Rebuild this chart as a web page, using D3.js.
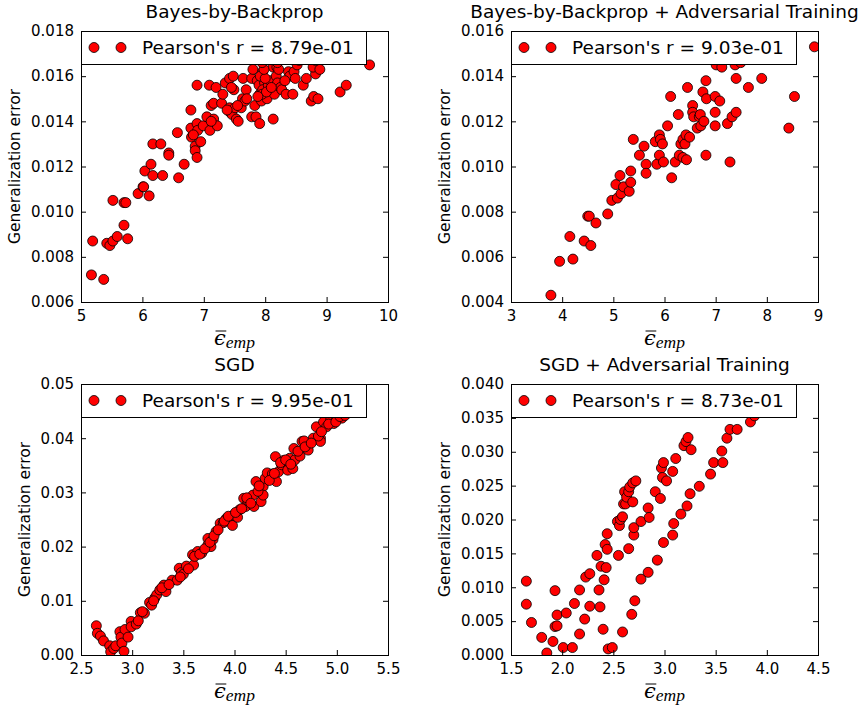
<!DOCTYPE html>
<html>
<head>
<meta charset="utf-8">
<script src="https://cdn.jsdelivr.net/npm/d3@7"></script>
<style>
body { margin: 0; background: #fff; }
text { font-family: "DejaVu Sans", sans-serif; fill: #000; }
</style>
</head>
<body>
<svg id="chart" width="867" height="709"></svg>
<script>
// panel titles and legend text
var titles = ["Bayes-by-Backprop", "Bayes-by-Backprop + Adversarial Training", "SGD", "SGD + Adversarial Training"];
var pearson = ["8.79e-01", "9.03e-01", "9.95e-01", "8.73e-01"];
var yLabel = "Generalization error";

// Bayes-by-Backprop
var bbbX = [5.17,5.37,5.19,5.42,5.47,5.52,5.59,5.76,5.70,5.52,5.70,5.73,5.93,6.01,6.02,6.11,6.04,6.14,6.17,6.33,
  6.17,6.30,6.43,6.43,6.59,6.68,6.57,6.79,6.79,6.80,6.86,6.86,6.89,6.89,6.90,6.95,6.89,6.99,7.05,7.09,
  7.10,7.12,7.16,7.16,7.20,7.22,7.29,7.31,7.35,7.42,7.48,7.42,7.43,7.46,7.49,7.51,7.53,7.56,7.61,7.63,
  7.67,7.69,7.64,7.78,7.80,7.78,7.85,7.83,7.91,7.87,7.90,7.91,7.94,7.96,7.99,7.96,8.03,8.05,8.08,8.13,
  8.13,8.15,8.18,8.19,8.20,8.25,8.27,8.34,8.38,8.40,8.45,8.47,8.49,8.52,8.62,8.67,8.75,8.79,8.82,8.78,
  8.86,8.89,9.22,9.32,9.70,
  7.45,7.55,7.70,7.92,7.95,8.00,8.02,8.10,8.22,7.98,7.88,7.12,6.83,7.38,8.32,7.95,8.55,8.82,8.20];
var bbbY = [0.0072,0.0070,0.0087,0.0086,0.0085,0.0087,0.0089,0.0088,0.0094,0.0105,0.0104,0.0104,0.0108,0.0111,0.0111,0.0107,0.0118,0.0121,0.0116,0.0116,
  0.0130,0.0130,0.0126,0.0125,0.0115,0.0121,0.0135,0.0145,0.0137,0.0133,0.0129,0.0127,0.0124,0.0139,0.0136,0.0131,0.0156,0.0138,0.0142,0.0156,
  0.0136,0.0147,0.0148,0.0141,0.0155,0.0138,0.0148,0.0152,0.0157,0.0159,0.0160,0.0146,0.0144,0.0143,0.0154,0.0146,0.0141,0.0140,0.0146,0.0150,
  0.0149,0.0154,0.0159,0.0159,0.0163,0.0142,0.0142,0.0147,0.0139,0.0158,0.0156,0.0152,0.0149,0.0162,0.0157,0.0154,0.0150,0.0156,0.0158,0.0164,
  0.0141,0.0152,0.0160,0.0164,0.0157,0.0155,0.0154,0.0152,0.0162,0.0160,0.0152,0.0162,0.0159,0.0165,0.0156,0.0159,0.0149,0.0151,0.0161,0.0164,
  0.0150,0.0163,0.0153,0.0156,0.0165,
  0.0155,0.0147,0.0150,0.0160,0.0152,0.0159,0.0153,0.0155,0.0163,0.0163,0.0151,0.0140,0.0134,0.0145,0.0158,0.0166,0.0167,0.0167,0.0166];
var bbbXTicks = [5, 6, 7, 8, 9, 10];
var bbbYTicks = [0.006, 0.008, 0.010, 0.012, 0.014, 0.016, 0.018];

// Bayes-by-Backprop + Adversarial Training
var bbbAdvX = [3.78,3.95,4.21,4.15,4.43,4.56,4.50,4.53,4.66,4.89,4.97,5.08,5.05,5.15,5.20,5.13,5.31,5.34,5.34,5.39,
  5.51,5.60,5.64,5.64,5.82,5.85,5.90,5.90,5.92,5.96,5.98,6.06,6.12,6.14,6.21,6.27,6.29,6.32,6.36,6.36,
  6.40,6.42,6.43,6.45,6.49,6.55,6.55,6.57,6.64,6.68,6.70,6.71,6.75,6.77,6.81,6.81,6.82,6.99,6.99,6.99,
  7.08,7.01,7.12,7.28,7.23,7.32,7.40,7.40,7.38,7.49,7.64,7.90,8.43,8.54,8.93,7.45,7.05];
var bbbAdvY = [0.0043,0.0058,0.0059,0.0069,0.0067,0.0065,0.0078,0.0078,0.0075,0.0079,0.0085,0.0086,0.0092,0.0088,0.0091,0.0096,0.0089,0.0093,0.0098,0.0112,
  0.0105,0.0109,0.0101,0.0097,0.0111,0.0101,0.0114,0.0105,0.0112,0.0110,0.0102,0.0118,0.0131,0.0095,0.0102,0.0123,0.0105,0.0110,0.0104,0.0112,
  0.0110,0.0114,0.0103,0.0135,0.0113,0.0127,0.0124,0.0122,0.0117,0.0122,0.0123,0.0118,0.0133,0.0120,0.0105,0.0138,0.0130,0.0131,0.0124,0.0118,
  0.0129,0.0145,0.0144,0.0102,0.0119,0.0122,0.0124,0.0139,0.0145,0.0146,0.0135,0.0139,0.0117,0.0131,0.0153,0.0148,0.0148];
var bbbAdvXTicks = [3, 4, 5, 6, 7, 8, 9];
var bbbAdvYTicks = [0.004, 0.006, 0.008, 0.010, 0.012, 0.014, 0.016];

// SGD
var sgdX = [2.65,2.66,2.69,2.72,2.78,2.79,2.82,2.84,2.88,2.89,2.90,2.92,2.93,2.96,2.99,2.99,3.04,3.08,3.12,3.17,
  3.19,3.22,3.24,3.27,3.31,3.33,3.39,3.44,3.46,3.48,3.50,3.53,3.59,3.60,3.64,3.68,3.74,3.74,3.77,3.79,
  3.82,3.86,3.89,3.92,3.95,3.98,3.99,4.03,4.05,4.09,4.11,4.13,4.18,4.19,4.21,4.26,4.28,4.28,4.30,4.32,
  4.37,4.40,4.41,4.43,4.46,4.48,4.52,4.54,4.57,4.58,4.59,4.64,4.66,4.68,4.71,4.72,4.77,4.80,4.84,4.84,
  4.87,4.90,4.94,4.97,5.00,5.05,
  3.06,3.10,3.21,3.29,3.36,3.47,3.55,3.61,3.66,3.71,3.76,3.80,3.84,3.90,3.94,4.01,4.07,4.12,4.16,4.23,
  4.24,4.34,4.39,4.45,4.50,4.55,4.62,4.69,4.75,4.82,4.85,4.92,4.99,5.03,5.08,5.10,5.20];
var sgdY = [0.0054,0.0040,0.0035,0.0026,0.0017,0.0006,0.0012,0.0017,0.0043,0.0033,0.0022,0.0007,0.0047,0.0033,0.0062,0.0052,0.0057,0.0078,0.0077,0.0097,
  0.0092,0.0105,0.0111,0.0120,0.0129,0.0117,0.0138,0.0138,0.0160,0.0152,0.0149,0.0164,0.0185,0.0166,0.0191,0.0188,0.0215,0.0203,0.0200,0.0213,
  0.0228,0.0243,0.0244,0.0252,0.0249,0.0239,0.0258,0.0254,0.0268,0.0289,0.0274,0.0285,0.0295,0.0274,0.0320,0.0283,0.0311,0.0295,0.0326,0.0336,
  0.0334,0.0366,0.0320,0.0338,0.0351,0.0359,0.0341,0.0363,0.0344,0.0381,0.0360,0.0367,0.0394,0.0395,0.0381,0.0378,0.0400,0.0421,0.0400,0.0394,
  0.0430,0.0421,0.0434,0.0427,0.0437,0.0437,
  0.0063,0.0080,0.0100,0.0124,0.0130,0.0144,0.0159,0.0182,0.0186,0.0196,0.0208,0.0220,0.0231,0.0247,0.0256,0.0263,0.0270,0.0290,0.0280,0.0302,
  0.0312,0.0322,0.0335,0.0355,0.0360,0.0352,0.0376,0.0384,0.0391,0.0404,0.0412,0.0426,0.0430,0.0440,0.0442,0.0450,0.0460];
var sgdXTicks = [2.5, 3.0, 3.5, 4.0, 4.5, 5.0, 5.5];
var sgdYTicks = [0.00, 0.01, 0.02, 0.03, 0.04, 0.05];

// SGD + Adversarial Training
var sgdAdvX = [1.65,1.65,1.70,1.80,1.85,1.91,1.93,1.93,1.95,1.95,2.01,2.04,2.10,2.12,2.17,2.17,2.22,2.23,2.27,2.27,
  2.34,2.36,2.37,2.38,2.40,2.41,2.42,2.43,2.44,2.44,2.45,2.49,2.54,2.55,2.56,2.57,2.59,2.59,2.60,2.61,
  2.62,2.63,2.65,2.65,2.66,2.68,2.69,2.69,2.70,2.70,2.71,2.72,2.77,2.77,2.84,2.84,2.85,2.91,2.93,2.96,
  2.97,2.98,2.99,2.99,3.02,3.08,3.08,3.09,3.11,3.16,3.19,3.21,3.22,3.23,3.25,3.26,3.34,3.45,3.48,3.56,
  3.57,3.61,3.64,3.71,3.84,3.88];
var sgdAdvY = [0.0109,0.0075,0.0048,0.0026,0.0003,0.0020,0.0095,0.0042,0.0059,0.0043,0.0011,0.0062,0.0011,0.0076,0.0031,0.0096,0.0053,0.0115,0.0072,0.0120,
  0.0147,0.0096,0.0071,0.0131,0.0038,0.0111,0.0163,0.0129,0.0179,0.0156,0.0009,0.0011,0.0197,0.0147,0.0191,0.0200,0.0204,0.0034,0.0223,0.0241,
  0.0223,0.0233,0.0157,0.0241,0.0248,0.0060,0.0254,0.0226,0.0177,0.0188,0.0080,0.0257,0.0197,0.0112,0.0217,0.0122,0.0203,0.0241,0.0140,0.0231,
  0.0276,0.0262,0.0166,0.0284,0.0257,0.0177,0.0271,0.0194,0.0290,0.0208,0.0309,0.0315,0.0220,0.0321,0.0238,0.0303,0.0249,0.0267,0.0284,0.0301,
  0.0284,0.0320,0.0333,0.0333,0.0344,0.0353];
var sgdAdvXTicks = [1.5, 2.0, 2.5, 3.0, 3.5, 4.0, 4.5];
var sgdAdvYTicks = [0.000, 0.005, 0.010, 0.015, 0.020, 0.025, 0.030, 0.035, 0.040];

var W = 307, H = 271;   // size of one axes frame

var panels = [
  { xs: bbbX, ys: bbbY, xTicks: bbbXTicks, yTicks: bbbYTicks, xFmt: "d", yFmt: ".3f", left: 81, top: 31 },
  { xs: bbbAdvX, ys: bbbAdvY, xTicks: bbbAdvXTicks, yTicks: bbbAdvYTicks, xFmt: "d", yFmt: ".3f", left: 511, top: 31 },
  { xs: sgdX, ys: sgdY, xTicks: sgdXTicks, yTicks: sgdYTicks, xFmt: ".1f", yFmt: ".2f", left: 81, top: 384 },
  { xs: sgdAdvX, ys: sgdAdvY, xTicks: sgdAdvXTicks, yTicks: sgdAdvYTicks, xFmt: ".1f", yFmt: ".3f", left: 511, top: 384 }
];

var svg = d3.select("#chart");
var defs = svg.append("defs");

function styleAxis(g) {
  g.attr("font-size", 15).attr("font-family", "DejaVu Sans, sans-serif");
  g.select(".domain").remove();
  g.selectAll(".tick line").attr("stroke", "#000");
  g.selectAll(".tick text").attr("fill", "#000");
}

function drawPanel(p, i) {
  var g = svg.append("g");
  var x = d3.scaleLinear().domain(d3.extent(p.xTicks)).range([p.left, p.left + W]);
  var y = d3.scaleLinear().domain(d3.extent(p.yTicks)).range([p.top + H, p.top]);

  defs.append("clipPath").attr("id", "clip" + i)
    .append("rect").attr("x", p.left).attr("y", p.top).attr("width", W).attr("height", H);

  // the points
  g.append("g").attr("clip-path", "url(#clip" + i + ")")
    .selectAll("circle")
    .data(d3.range(p.xs.length))
    .join("circle")
    .attr("cx", function(d) { return x(p.xs[d]); })
    .attr("cy", function(d) { return y(p.ys[d]); })
    .attr("r", 5)
    .attr("fill", "#ff0000")
    .attr("stroke", "#000")
    .attr("stroke-width", 0.8);

  // ticks point inwards, on all four sides
  g.append("g").attr("transform", "translate(0," + (p.top + H) + ")")
    .call(d3.axisBottom(x).tickValues(p.xTicks).tickFormat(d3.format(p.xFmt))
      .tickSizeInner(-5).tickSizeOuter(0).tickPadding(8))
    .call(styleAxis);
  g.append("g").attr("transform", "translate(0," + p.top + ")")
    .call(d3.axisTop(x).tickValues(p.xTicks).tickFormat("").tickSizeInner(-5).tickSizeOuter(0))
    .call(styleAxis);
  var yl = g.append("g").attr("transform", "translate(" + p.left + ",0)")
    .call(d3.axisLeft(y).tickValues(p.yTicks).tickFormat(d3.format(p.yFmt))
      .tickSizeInner(-5).tickSizeOuter(0).tickPadding(7))
    .call(styleAxis);
  g.append("g").attr("transform", "translate(" + (p.left + W) + ",0)")
    .call(d3.axisRight(y).tickValues(p.yTicks).tickFormat("").tickSizeInner(-5).tickSizeOuter(0))
    .call(styleAxis);

  // y label sits left of the widest tick label
  var tickW = d3.max(yl.selectAll(".tick text").nodes(), function(n) { return n.getComputedTextLength(); });
  var lx = p.left - 7 - tickW - 16;
  g.append("text")
    .attr("transform", "translate(" + lx + "," + (p.top + H / 2) + ") rotate(-90)")
    .attr("text-anchor", "middle")
    .attr("dy", "0.35em")
    .attr("font-size", 15.5)
    .text(yLabel);

  // x label: overlined epsilon with subscript emp, math style
  var cx = p.left + W / 2, by = p.top + H + 43;
  var xl = g.append("text").attr("x", cx).attr("y", by).attr("text-anchor", "middle").attr("font-style", "italic");
  xl.append("tspan").attr("font-family", "DejaVu Serif, serif").attr("font-size", 21).text("\u03f5");
  xl.append("tspan").attr("font-family", "Liberation Serif, serif").attr("font-size", 17.5).attr("dy", 3).text("emp");
  var s = xl.node().getStartPositionOfChar(0), e = xl.node().getEndPositionOfChar(0);
  g.append("line").attr("x1", s.x + 1.5).attr("x2", e.x + 0.5)
    .attr("y1", by - 14).attr("y2", by - 14)
    .attr("stroke", "#000").attr("stroke-width", 1);

  // title
  g.append("text").attr("x", cx).attr("y", p.top - 13)
    .attr("text-anchor", "middle").attr("font-size", 18.5)
    .text(titles[i]);

  // legend box in the upper left corner, drawn over the points
  var lg = g.append("g").attr("transform", "translate(" + p.left + "," + p.top + ")");
  lg.append("rect").attr("x", 0.5).attr("y", 0.5).attr("width", 285).attr("height", 33)
    .attr("fill", "#fff").attr("stroke", "#000").attr("stroke-width", 1);
  lg.selectAll("circle").data([13, 40]).join("circle")
    .attr("cx", function(d) { return d; }).attr("cy", 16.5).attr("r", 5)
    .attr("fill", "#ff0000").attr("stroke", "#000").attr("stroke-width", 0.8);
  lg.append("text").attr("x", 61).attr("y", 23).attr("font-size", 18.5)
    .text("Pearson's r = " + pearson[i]);

  // frame
  g.append("rect").attr("x", p.left + 0.5).attr("y", p.top + 0.5)
    .attr("width", W).attr("height", H)
    .attr("fill", "none").attr("stroke", "#000").attr("stroke-width", 1);
}

panels.forEach(drawPanel);
</script>
</body>
</html>
